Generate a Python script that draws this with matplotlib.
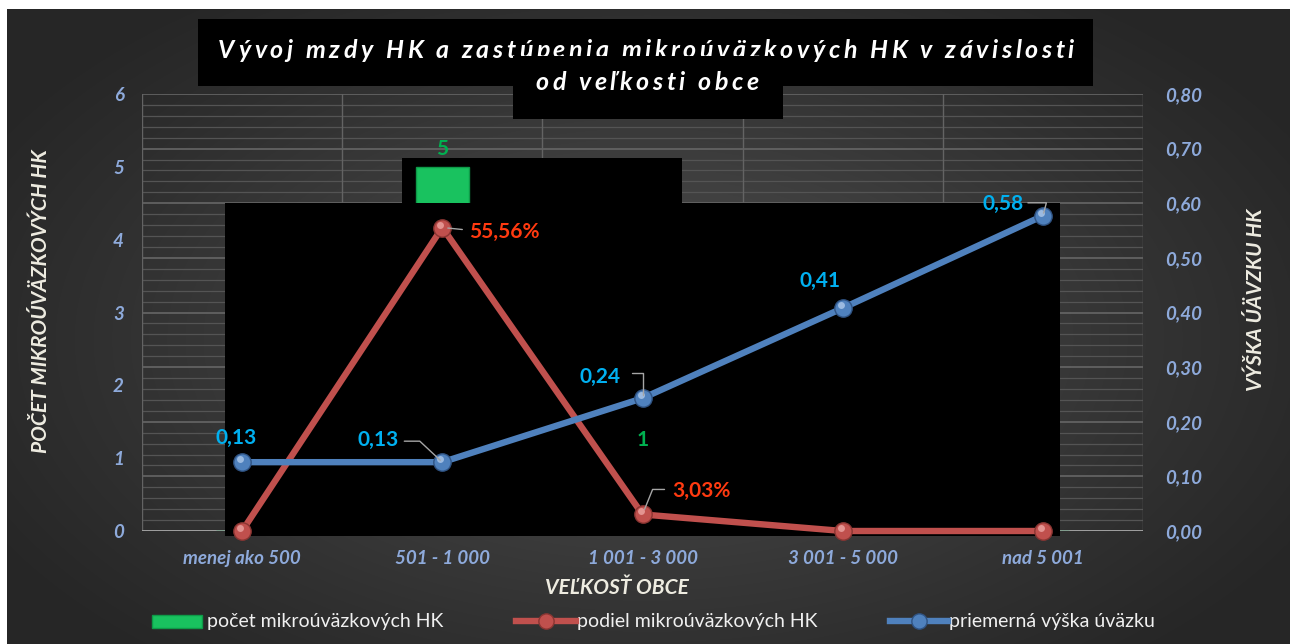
import matplotlib
matplotlib.use('Agg')
import matplotlib.pyplot as plt
import numpy as np
from matplotlib.patches import Rectangle
from matplotlib.lines import Line2D
import matplotlib.transforms as mtransforms

# ---------------- data ----------------
categories = ['menej ako 500', '501 - 1 000', '1 001 - 3 000', '3 001 - 5 000', 'nad 5 001']
pocet = [0, 5, 1, 0, 0]                       # počet mikroúväzkových HK (left axis)
podiel = [0.0, 0.5556, 0.0303, 0.0, 0.0]      # podiel mikroúväzkových HK (right axis)
priemer = [0.126, 0.126, 0.243, 0.408, 0.577] # priemerná výška úväzku (right axis)
podiel_labels = ['', '55,56%', '3,03%', '', '']
priemer_labels = ['0,13', '0,13', '0,24', '0,41', '0,58']
pocet_labels = ['', '5', '1', '', '']
left_ticks = [0, 1, 2, 3, 4, 5, 6]
right_ticks = [0.0, 0.1, 0.2, 0.3, 0.4, 0.5, 0.6, 0.7, 0.8]
right_tick_labels = ['0,00', '0,10', '0,20', '0,30', '0,40', '0,50', '0,60', '0,70', '0,80']
title_lines = ['Vývoj mzdy HK a zastúpenia mikroúväzkových HK v závislosti', 'od veľkosti obce']
legend_labels = ['počet mikroúväzkových HK', 'podiel mikroúväzkových HK', 'priemerná výška úväzku']

W, H = 1295, 644
FONT = 'Lato'
TICKC = '#8eaadb'
CREAM = '#eeece1'
RED = '#c0504d'
BLUE = '#4f81bd'
GREEN = '#19c25f'

def fx(px):
    return px / W

def fy(py):
    return 1 - py / H

fig = plt.figure(figsize=(W / 100, H / 100), dpi=100)
fig.patch.set_facecolor('white')

# background gradient
bg = fig.add_axes([fx(7), 0, fx(1290) - fx(7), fy(9)], zorder=-10)
yy, xx = np.mgrid[0:635, 0:1283]
r = np.sqrt(((xx - 640) / 760.0) ** 2 + ((yy - 330) / 430.0) ** 2)
v = 38 + (80 - 38) * np.clip(1 - r, 0, 1) ** 1.1
img = np.dstack([v, v, v]) / 255.0
bg.imshow(img, aspect='auto', extent=[0, 1, 0, 1], interpolation='bilinear')
bg.set_axis_off()

ax = fig.add_axes([fx(142), fy(531), fx(1143) - fx(142), fy(94) - fy(531)])
ax.patch.set_alpha(0)
ax2 = ax.twinx()
ax2.patch.set_alpha(0)

x = np.arange(len(categories))
ax.set_xlim(-0.5, len(categories) - 0.5)
ax.set_ylim(0, 6)
ax2.set_ylim(0, 0.8)

# gridlines (from secondary axis scale)
ratio = 6 / 0.8
for i, gv in enumerate(np.arange(0, 0.8001, 0.02)):
    major = (i % 5 == 0)
    ax.axhline(gv * ratio, color='#666666' if major else '#545454',
               lw=1.2 if major else 0.9, zorder=0.5)
for b in np.arange(-0.5, len(categories), 1.0):
    ax.axvline(b, color='#636363', lw=1.0, zorder=0.6)
ax.axhline(0, color='#a6a6a6', lw=2.0, zorder=0.7)

# black occluding blocks (upper one sits below the bar, lower one above it)
ax.add_artist(Rectangle((fx(402), fy(203)), fx(682) - fx(402), fy(158) - fy(203),
                        transform=fig.transFigure, facecolor='black',
                        edgecolor='none', zorder=1.5, clip_on=False))
ax.add_artist(Rectangle((fx(225), fy(536)), fx(1060) - fx(225), fy(203) - fy(536),
                        transform=fig.transFigure, facecolor='black',
                        edgecolor='none', zorder=3, clip_on=False))

# bars
ax.bar(x, pocet, width=0.265, color=GREEN, edgecolor='#0e9a48', lw=1.0, zorder=2)

# bar labels
for xi, val, lab in zip(x, pocet, pocet_labels):
    if lab:
        ax.annotate(lab, (xi, val), xytext=(0, 18), textcoords='offset pixels',
                    ha='center', va='center', color='#00b050', fontsize=15,
                    fontweight='bold', family=FONT, zorder=6)

# lines
def sphere_line(axx, yv, col, dark, light):
    axx.plot(x, yv, color=col, lw=4.6, solid_capstyle='butt', zorder=3, clip_on=False)
    axx.plot(x, yv, ls='none', marker='o', ms=12.5, mfc=col, mec=dark, mew=1.0,
             zorder=4, clip_on=False)
    tr = mtransforms.offset_copy(axx.transData, fig=fig, x=-2, y=3, units='dots')
    axx.plot(x, yv, ls='none', marker='o', ms=5, mfc=light, mec='none', alpha=0.7,
             transform=tr, zorder=5, clip_on=False)

sphere_line(ax2, podiel, RED, '#8a3532', '#f2b0ae')
sphere_line(ax2, priemer, BLUE, '#2f5383', '#bcd3f0')

LEAD = dict(arrowstyle='-', color='#a6a6a6', lw=1.0, shrinkA=0, shrinkB=2)

# blue labels: (text offset px, leader start offset px, angleB)
blue_off = [(-6, 24), (-64, 22), (-42, 21), (-23, 27), (-40, 12)]
blue_lead = [None, ((-38, 21), 137), ((-11, 25), 90), None, ((-15, 13), 75)]
for xi, val, lab, off, ld in zip(x, priemer, priemer_labels, blue_off, blue_lead):
    ax2.annotate(lab, (xi, val), xytext=off, textcoords='offset pixels',
                 ha='center', va='center', color='#00b0f0', fontsize=15,
                 fontweight='bold', family=FONT, zorder=7)
    if ld is not None:
        (lx, ly), angB = ld
        ax2.annotate('', (xi, val), xytext=(lx, ly), textcoords='offset pixels',
                     arrowprops=dict(LEAD, connectionstyle='angle,angleA=0,angleB=%d,rad=0' % angB),
                     zorder=6)

# red labels
red_off = [None, (27, -4), (30, 23), None, None]
red_lead = [None, ((20, -2), None), ((22, 25), 68), None, None]
for xi, val, lab, off, ld in zip(x, podiel, podiel_labels, red_off, red_lead):
    if not lab:
        continue
    ax2.annotate(lab, (xi, val), xytext=off, textcoords='offset pixels',
                 ha='left', va='center', color='#ff3a10', fontsize=15,
                 fontweight='bold', family=FONT, zorder=7)
    (lx, ly), angB = ld
    cs = 'arc3,rad=0' if angB is None else 'angle,angleA=0,angleB=%d,rad=0' % angB
    ax2.annotate('', (xi, val), xytext=(lx, ly), textcoords='offset pixels',
                 arrowprops=dict(LEAD, connectionstyle=cs, shrinkB=4), zorder=6)

# ticks
tick_font = dict(family=FONT, fontsize=13.5, fontweight='bold', style='italic', color=TICKC)
ax.set_yticks(left_ticks)
ax.set_yticklabels([str(t) for t in left_ticks], **tick_font)
ax2.set_yticks(right_ticks)
ax2.set_yticklabels(right_tick_labels, **tick_font)
ax.set_xticks(x)
ax.set_xticklabels(categories, **tick_font)
ax.tick_params(axis='y', length=0, pad=13)
ax2.tick_params(axis='y', length=0, pad=16)
ax.tick_params(axis='x', length=0, pad=14)
for a in (ax, ax2):
    for s in a.spines.values():
        s.set_visible(False)

# axis titles
title_font = dict(family=FONT, fontweight='bold', style='italic', color=CREAM)
fig.text(fx(41), fy(301), 'POČET MIKROÚVÄZKOVÝCH HK', rotation=90, ha='center', va='center',
         fontsize=15, **title_font)
fig.text(fx(1256), fy(300), 'VÝŠKA ÚÄVZKU HK', rotation=90, ha='center', va='center',
         fontsize=15, **title_font)
fig.text(fx(617), fy(588), 'VEĽKOSŤ OBCE', ha='center', va='center', fontsize=15, **title_font)

# title with black boxes and letter spacing
fig.patches.append(Rectangle((fx(198), fy(86)), fx(1093) - fx(198), fy(19) - fy(86),
                             transform=fig.transFigure, facecolor='black', edgecolor='none',
                             zorder=10))
renderer = fig.canvas.get_renderer()

def spaced_text(cx, cy, s, size, track, zorder):
    kw = dict(family=FONT, fontsize=size, fontweight='bold', style='italic', color='white')
    def width(t):
        tt = fig.text(0, 0, t, **kw)
        w = tt.get_window_extent(renderer).width
        tt.remove()
        return w
    wx = width('x')
    pos = [width(s[:i] + 'x') - wx if i > 0 else 0.0 for i in range(len(s))]
    total = width(s) + track * (len(s) - 1)
    start = cx - total / 2
    for i, ch in enumerate(s):
        if ch == ' ':
            continue
        fig.text(fx(start + pos[i] + i * track), fy(cy), ch, ha='left', va='baseline',
                 zorder=zorder, **kw)

spaced_text(646, 58, title_lines[0], 18, 3.6, 11)
fig.patches.append(Rectangle((fx(513), fy(119)), fx(783) - fx(513), fy(56) - fy(119),
                             transform=fig.transFigure, facecolor='black', edgecolor='none',
                             zorder=12))
spaced_text(647, 90, title_lines[1], 18, 3.6, 13)

# legend (manual)
leg_y = 621
fig.patches.append(Rectangle((fx(152), fy(628)), fx(202) - fx(152), fy(615) - fy(628),
                             transform=fig.transFigure, facecolor=GREEN, edgecolor='#0e9a48',
                             lw=1.0, zorder=10))
for (x0, x1, col, dark, light) in [(516, 576, RED, '#8a3532', '#f2b0ae'),
                                    (890, 948, BLUE, '#2f5383', '#bcd3f0')]:
    fig.lines.append(Line2D([fx(x0), fx(x1)], [fy(leg_y), fy(leg_y)], transform=fig.transFigure,
                            color=col, lw=4.6, zorder=10))
    fig.lines.append(Line2D([fx((x0 + x1) / 2)], [fy(leg_y)], transform=fig.transFigure,
                            marker='o', ms=11, mfc=col, mec=dark, ls='none', zorder=11))
leg_font = dict(family=FONT, fontsize=14, color='#f0f0f0', ha='left', va='center')
fig.text(fx(207), fy(leg_y), legend_labels[0], **leg_font)
fig.text(fx(577), fy(leg_y), legend_labels[1], **leg_font)
fig.text(fx(949), fy(leg_y), legend_labels[2], **leg_font)

fig.savefig('out.png', dpi=100)
